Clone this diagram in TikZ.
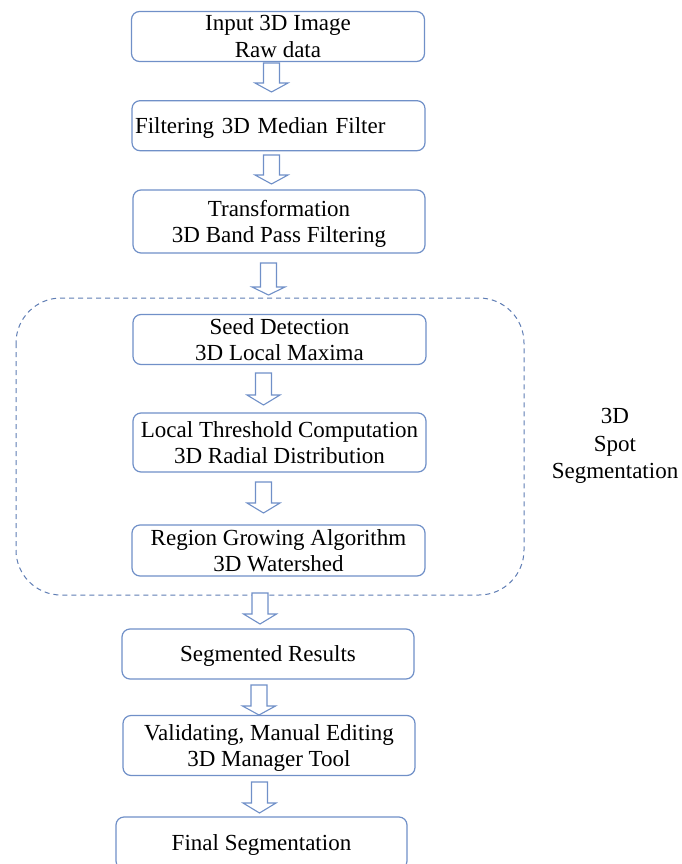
\documentclass[tikz,border=0pt]{standalone}
\usepackage{fontspec}
\setmainfont{Liberation Serif}
\definecolor{boxblue}{RGB}{112,144,200}
\definecolor{dashblue}{RGB}{95,125,180}
\newcommand\blockarr[4]{% center x, top y, head start y, tip y
  \draw[arrowline] ({#1-8},#2) -- ({#1+8},#2) -- ({#1+8},#3) -- ({#1+16.5},#3)
    -- (#1,#4) -- ({#1-16.5},#3) -- ({#1-8},#3) -- cycle;}
\begin{document}
\begin{tikzpicture}[x=1pt,y=-1pt,
  stepbox/.style={draw=boxblue, line width=1.2pt, rounded corners=8pt, fill=white,
    minimum width=#1, inner sep=0pt, align=center, text depth=0pt,
    font=\fontsize{23}{26.5}\selectfont},
  stepbox/.default=293pt,
  arrowline/.style={draw=boxblue, line width=1.1pt, fill=white, line join=miter},
  groupbox/.style={draw=dashblue, line width=1pt, dash pattern=on 5pt off 4pt, rounded corners=45pt},
  lbl/.style={align=center, font=\fontsize{23}{27.5}\selectfont, inner sep=0pt}]
\useasboundingbox (0,0) rectangle (681,864);
\clip (0,0) rectangle (681,864);
\fill[white] (0,0) rectangle (681,864);

% group
\draw[groupbox] (16,298) rectangle (524,595);
\node[lbl] (grplbl) at (615,446) {3D\\Spot\\Segmentation};

% boxes
\node[stepbox, minimum height=50pt] (in) at (278,36.5) {Input 3D Image\\Raw data};
\node[stepbox, minimum height=50pt, text width=287pt, inner xsep=3pt, align=left] (filt) at (278.5,125.7) {Filtering 3D Median Filter};
\node[stepbox=292pt, minimum height=63pt] (trans) at (279,221.5) {Transformation\\3D Band Pass Filtering};
\node[stepbox, minimum height=50pt] (seed) at (279.5,339.5) {Seed Detection\\3D Local Maxima};
\node[stepbox, minimum height=59pt] (thr) at (279.5,442.5) {Local Threshold Computation\\3D Radial Distribution};
\node[stepbox, minimum height=51pt] (reg) at (278.5,550.5) {Region Growing Algorithm\\3D Watershed};
\node[stepbox=292pt, minimum height=50pt] (segres) at (268,654) {Segmented Results};
\node[stepbox=292pt, minimum height=60pt] (valid) at (269,745.5) {Validating, Manual Editing\\3D Manager Tool};
\node[stepbox=291pt, minimum height=52pt] (final) at (261.5,843) {Final Segmentation};

% block arrows between boxes
\blockarr{271.5}{63}{83}{92}
\blockarr{271.5}{155}{175}{184}
\blockarr{268.5}{263}{287}{295}
\blockarr{263.5}{373}{395}{405}
\blockarr{263.5}{482}{503}{513}
\blockarr{260}{593}{614}{624}
\blockarr{259}{685}{706}{715}
\blockarr{259.5}{782}{803}{813}
\end{tikzpicture}
\end{document}
